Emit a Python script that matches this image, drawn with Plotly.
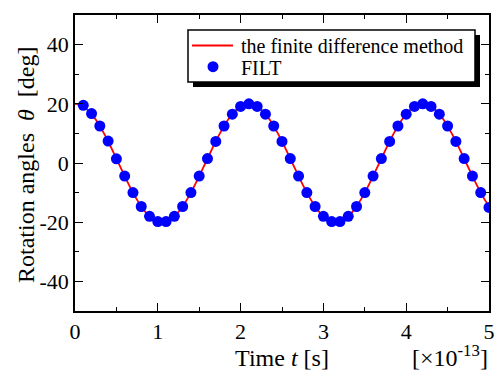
import plotly.graph_objects as go

# ---- data ----
t_line = [0.0, 0.05, 0.1, 0.15, 0.2, 0.25, 0.3, 0.35, 0.4, 0.45, 0.5, 0.55, 0.6, 0.65, 0.7, 0.75, 0.8, 0.85, 0.9, 0.95,
          1.0, 1.05, 1.1, 1.15, 1.2, 1.25, 1.3, 1.35, 1.4, 1.45, 1.5, 1.55, 1.6, 1.65, 1.7, 1.75, 1.8, 1.85, 1.9, 1.95,
          2.0, 2.05, 2.1, 2.15, 2.2, 2.25, 2.3, 2.35, 2.4, 2.45, 2.5, 2.55, 2.6, 2.65, 2.7, 2.75, 2.8, 2.85, 2.9, 2.95,
          3.0, 3.05, 3.1, 3.15, 3.2, 3.25, 3.3, 3.35, 3.4, 3.45, 3.5, 3.55, 3.6, 3.65, 3.7, 3.75, 3.8, 3.85, 3.9, 3.95,
          4.0, 4.05, 4.1, 4.15, 4.2, 4.25, 4.3, 4.35, 4.4, 4.45, 4.5, 4.55, 4.6, 4.65, 4.7, 4.75, 4.8, 4.85, 4.9, 4.95, 5.0]
fdm_angle = [20.0, 19.78, 19.11, 18.02, 16.52, 14.66, 12.47, 10.0, 7.31, 4.45, 1.49, -1.49, -4.45, -7.31, -10.0,
             -12.47, -14.66, -16.52, -18.02, -19.11, -19.78, -20.0, -19.78, -19.11, -18.02, -16.52, -14.66, -12.47,
             -10.0, -7.31, -4.45, -1.49, 1.49, 4.45, 7.31, 10.0, 12.47, 14.66, 16.52, 18.02, 19.11, 19.78,
             20.0, 19.78, 19.11, 18.02, 16.52, 14.66, 12.47, 10.0, 7.31, 4.45, 1.49, -1.49, -4.45, -7.31, -10.0,
             -12.47, -14.66, -16.52, -18.02, -19.11, -19.78, -20.0, -19.78, -19.11, -18.02, -16.52, -14.66, -12.47,
             -10.0, -7.31, -4.45, -1.49, 1.49, 4.45, 7.31, 10.0, 12.47, 14.66, 16.52, 18.02, 19.11, 19.78,
             20.0, 19.78, 19.11, 18.02, 16.52, 14.66, 12.47, 10.0, 7.31, 4.45, 1.49, -1.49, -4.45, -7.31, -10.0,
             -12.47, -14.66]

t_filt = [0.1, 0.2, 0.3, 0.4, 0.5, 0.6, 0.7, 0.8, 0.9, 1.0, 1.1, 1.2, 1.3, 1.4, 1.5, 1.6, 1.7, 1.8, 1.9, 2.0,
          2.1, 2.2, 2.3, 2.4, 2.5, 2.6, 2.7, 2.8, 2.9, 3.0, 3.1, 3.2, 3.3, 3.4, 3.5, 3.6, 3.7, 3.8, 3.9, 4.0,
          4.1, 4.2, 4.3, 4.4, 4.5, 4.6, 4.7, 4.8, 4.9, 5.0]
filt_angle = [19.5, 16.7, 12.5, 7.4, 1.4, -4.4, -10.0, -14.7, -18.0, -19.8, -19.8, -18.0, -14.7, -10.0, -4.4,
              1.5, 7.3, 12.5, 16.5, 19.1, 20.0, 19.1, 16.5, 12.5, 7.3, 1.5, -4.4, -10.0, -14.7, -18.0,
              -19.8, -19.8, -18.0, -14.7, -10.0, -4.4, 1.5, 7.3, 12.5, 16.5, 19.1, 20.0, 19.1, 16.5, 12.5,
              7.3, 1.5, -4.4, -10.0, -15.0]

x_ticks = [0, 1, 2, 3, 4, 5]
x_ticktext = ["0", "1", "2", "3", "4", "5"]
y_ticks = [-40, -20, 0, 20, 40]
y_ticktext = ["-40", "-20", "0", "20", "40"]

legend_names = ["the finite difference method", "FILT"]

# ---- layout geometry ----
W, H = 500, 372
ML, MR, MT, MB = 75, 11, 15, 61
PW, PH = W - ML - MR, H - MT - MB


def px_x(x):
    return (x - ML) / PW


def px_y(y):
    return (H - MB - y) / PH


FONT = "Liberation Serif"
RED = "#ff0000"
BLUE = "#0000ff"

fig = go.Figure()
fig.add_trace(go.Scatter(x=t_line, y=fdm_angle, mode="lines", name=legend_names[0], showlegend=False,
                         line=dict(color=RED, width=1.8, shape="spline")))
fig.add_trace(go.Scatter(x=t_filt, y=filt_angle, mode="markers", name=legend_names[1], showlegend=False,
                         marker=dict(color=BLUE, size=11, line=dict(width=0))))

# ---- legend box (drawn with paper-referenced shapes) ----
def rect(x0, y0, x1, y1, **kw):
    fig.add_shape(type="rect", xref="paper", yref="paper",
                  x0=px_x(x0), x1=px_x(x1), y0=px_y(y1), y1=px_y(y0), layer="above", **kw)


rect(193, 35, 480, 87, fillcolor="black", line=dict(width=0))
rect(188, 30, 475, 82, fillcolor="white", line=dict(color="black", width=1.5))
fig.add_shape(type="line", xref="paper", yref="paper", x0=px_x(192), x1=px_x(233), y0=px_y(45.5), y1=px_y(45.5),
              line=dict(color=RED, width=1.8), layer="above")
fig.add_shape(type="circle", xref="paper", yref="paper", x0=px_x(207.5), x1=px_x(218.5),
              y0=px_y(72.2), y1=px_y(61.2), fillcolor=BLUE, line=dict(width=0), layer="above")
fig.add_annotation(xref="paper", yref="paper", x=px_x(239), y=px_y(46), xanchor="left", yanchor="middle",
                   text=legend_names[0], showarrow=False, font=dict(family=FONT, size=20, color="black"))
fig.add_annotation(xref="paper", yref="paper", x=px_x(239), y=px_y(67.5), xanchor="left", yanchor="middle",
                   text=legend_names[1], showarrow=False, font=dict(family=FONT, size=20, color="black"))

fig.add_annotation(xref="paper", yref="paper", x=px_x(490), y=px_y(356), xanchor="right", yanchor="middle",
                   text="[×10<sup>-13</sup>]", showarrow=False, font=dict(family=FONT, size=24, color="black"))

# y-axis title (annotation for exact placement)
fig.add_annotation(xref="paper", yref="paper", x=px_x(26), y=px_y(165), xanchor="center", yanchor="middle",
                   textangle=-90, text="Rotation angles  <i>θ</i>  [deg]", showarrow=False,
                   font=dict(family=FONT, size=24, color="black"))

axis_common = dict(showgrid=False, zeroline=False, showline=True, linecolor="black", linewidth=1.5,
                   mirror="ticks", ticks="inside", tickcolor="black", tickwidth=1.3, ticklen=8,
                   tickfont=dict(family=FONT, size=22, color="black"))

fig.update_xaxes(range=[0, 5], tickmode="array", tickvals=x_ticks, ticktext=x_ticktext,
                 minor=dict(ticks="inside", dtick=0.5, tick0=0, ticklen=4, tickcolor="black", tickwidth=1.3),
                 title=dict(text="Time <i>t</i> [s]", font=dict(family=FONT, size=24, color="black"), standoff=6),
                 **axis_common)
fig.update_yaxes(range=[-50, 50], tickmode="array", tickvals=y_ticks, ticktext=y_ticktext,
                 minor=dict(ticks="inside", dtick=10, tick0=0, ticklen=4, tickcolor="black", tickwidth=1.3),
                 **axis_common)

fig.update_layout(
    width=W, height=H,
    margin=dict(l=ML, r=MR, t=MT, b=MB, autoexpand=False),
    paper_bgcolor="white", plot_bgcolor="white",
    font=dict(family=FONT, color="black"),
    showlegend=False,
)

fig.write_html("out.html", config={"displayModeBar": False},
               post_script="document.body.style.margin='0';document.body.style.padding='0';")
